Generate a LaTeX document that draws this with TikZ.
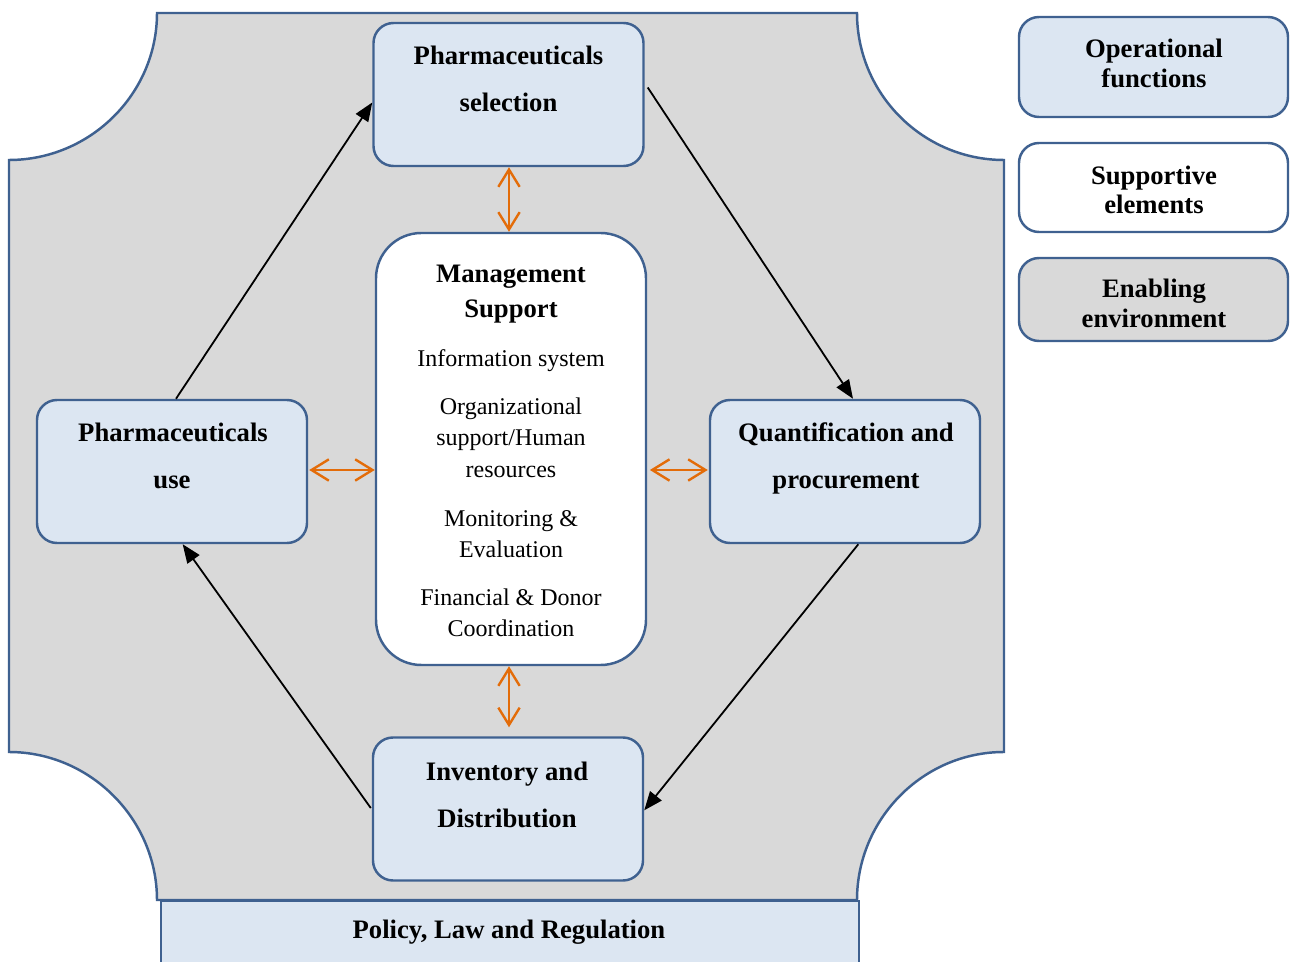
\documentclass[tikz,border=0pt]{standalone}
\usepackage{fontspec}
\setmainfont{Liberation Serif}
\usetikzlibrary{arrows.meta,calc}
\definecolor{plate}{HTML}{D9D9D9}
\definecolor{paleblue}{HTML}{DCE6F2}
\definecolor{edgeblue}{HTML}{3F6190}
\definecolor{flow}{HTML}{E36C09}
\begin{document}
\begin{tikzpicture}[x=0.75pt,y=-0.75pt,
  framed/.style={draw=edgeblue, line width=1.85pt, inner sep=0pt},
  func/.style={framed, fill=paleblue, rounded corners=15pt,
    minimum width=202.5pt, minimum height=107.25pt},
  mgmt/.style={framed, fill=white, rounded corners=34pt,
    minimum width=202.5pt, minimum height=324pt},
  key/.style={framed, rounded corners=15pt, minimum width=201.75pt},
  head/.style={anchor=base, inner sep=0pt, font=\fontsize{20}{24}\bfseries\selectfont},
  body/.style={anchor=base, inner sep=0pt, font=\fontsize{18}{22}\selectfont},
  cycle/.style={draw=black, line width=1.35pt, -{Triangle[length=14pt,width=11pt]}},
  link/.style={draw=flow, line width=1.8pt,
    {Straight Barb[length=13pt,width=16pt]}-{Straight Barb[length=13pt,width=16pt]}}
]
\useasboundingbox (0,0) rectangle (1290,962);
\clip (0,0) rectangle (1290,962);

% enabling environment: plate with concave corners
\filldraw[fill=plate, draw=edgeblue, line width=1.85pt]
  (157,13) -- (857,13)
  .. controls (857,94) and (923,160) .. (1004,160)
  -- (1004,752)
  .. controls (923,752) and (857,819) .. (857,900)
  -- (157,900)
  .. controls (157,819) and (90,752) .. (9,752)
  -- (9,160)
  .. controls (90,160) and (157,94) .. (157,13) -- cycle;

% policy bar along the bottom
\node[framed, fill=paleblue, minimum width=523.5pt, minimum height=60pt, anchor=north west]
  (policy) at (160,900) {};
\node[head] (policyT) at (509,938) {Policy, Law and Regulation};

% operational functions
\node[func] (sel) at (508.5,94.5) {};
\node[head] (selA) at (508.5,65) {Pharmaceuticals};
\node[head] (selB) at (508.5,112) {selection};

\node[func] (quant) at (845,471.5) {};
\node[head] (quantA) at (846,442) {Quantification and};
\node[head] (quantB) at (846,489) {procurement};

\node[func] (inv) at (508,809) {};
\node[head] (invA) at (507,780) {Inventory and};
\node[head] (invB) at (507,827) {Distribution};

\node[func] (use) at (172,471.5) {};
\node[head] (useA) at (173,442) {Pharmaceuticals};
\node[head] (useB) at (172,489) {use};

% management support
\node[mgmt] (ms) at (511,449) {};
\node[head] (msA) at (511,283) {Management};
\node[head] (msB) at (511,318) {Support};
\node[body] (ms1) at (511,367) {Information system};
\node[body] (ms2a) at (511,415) {Organizational};
\node[body] (ms2b) at (511,446) {support/Human};
\node[body] (ms2c) at (511,478) {resources};
\node[body] (ms3a) at (511,527) {Monitoring \&};
\node[body] (ms3b) at (511,558) {Evaluation};
\node[body] (ms4a) at (511,606) {Financial \& Donor};
\node[body] (ms4b) at (511,637) {Coordination};

% cycle of operational functions
\draw[cycle] ([shift={(3,-7)}]sel.east) -- ([xshift=6]quant.north);
\draw[cycle] ([xshift=10]quant.south) -- ([yshift=-1]inv.east);
\draw[cycle] ([shift={(-1,-1)}]inv.west) -- ([xshift=8]use.south);
\draw[cycle] ([xshift=3]use.north) -- ([yshift=-6]sel.west);

% links to management support
\coordinate (msTop) at ($(ms.north)+(-2,0)$);
\coordinate (msBot) at ($(ms.south)+(-2,0)$);
\coordinate (invTop) at ($(inv.north)+(1,-9)$);
\coordinate (useR) at ($(use.east)+(1,-1.5)$);
\coordinate (quantL) at ($(quant.west)+(-1,-1.5)$);
\draw[link] (msTop |- sel.south) -- (msTop);
\draw[link] (msBot) -- (invTop);
\draw[link] (useR) -- (useR -| ms.west);
\draw[link] ([xshift=2]quantL -| ms.east) -- (quantL);

% legend
\node[key, fill=paleblue, minimum height=75pt] (kOp) at (1153.5,67) {};
\node[head] (kOpA) at (1154,58) {Operational};
\node[head] (kOpB) at (1154,88) {functions};
\node[key, fill=white, minimum height=66.75pt] (kSup) at (1153.5,187.5) {};
\node[head] (kSupA) at (1154,185) {Supportive};
\node[head] (kSupB) at (1154,214) {elements};
\node[key, fill=plate, minimum height=62.25pt] (kEn) at (1153.5,299.5) {};
\node[head] (kEnA) at (1154,298) {Enabling};
\node[head] (kEnB) at (1154,328) {environment};
\end{tikzpicture}
\end{document}
